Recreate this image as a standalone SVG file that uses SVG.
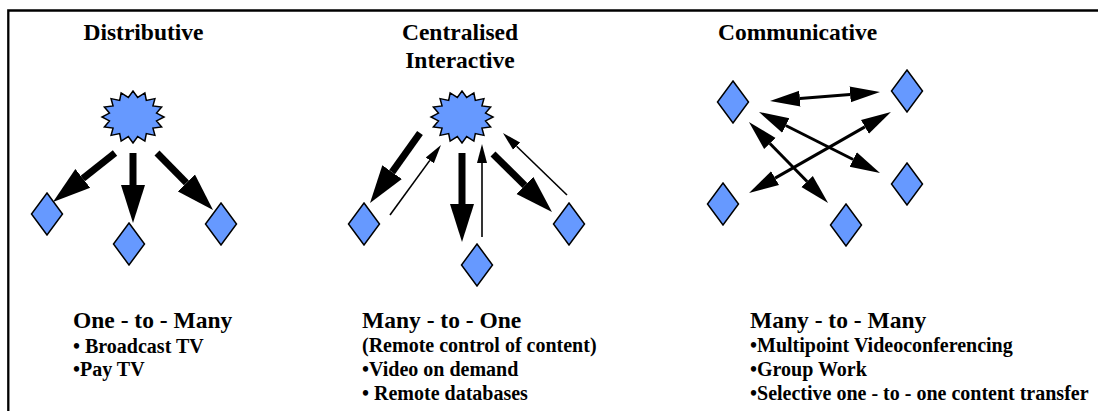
<svg xmlns="http://www.w3.org/2000/svg" width="1098" height="411" viewBox="0 0 1098 411">
<style>
.t{font-family:"Liberation Serif","Times New Roman",serif;font-weight:bold;fill:#000}
.h{font-size:23.5px}
.b{font-size:20px}
.node{fill:#6699FF;stroke:#000;stroke-width:1.5;stroke-linejoin:miter}
.thick{stroke:#000;stroke-width:7;fill:none;marker-end:url(#mThick)}
.thin{stroke:#000;stroke-width:1.6;fill:none;marker-end:url(#mThin)}
.dbl{stroke:#000;stroke-width:3;fill:none;marker-start:url(#mDbl);marker-end:url(#mDbl)}
</style>
<defs>
<marker id="mThick" markerUnits="userSpaceOnUse" viewBox="0 -13 40 26" markerWidth="40" markerHeight="26" refX="0" refY="0" orient="auto"><path d="M0,-12 L38,0 L0,12 z" fill="#000"/></marker>
<marker id="mThin" markerUnits="userSpaceOnUse" viewBox="0 -6 20 12" markerWidth="20" markerHeight="12" refX="0" refY="0" orient="auto"><path d="M0,-5 L19,0 L0,5 z" fill="#000"/></marker>
<marker id="mDbl" markerUnits="userSpaceOnUse" viewBox="0 -9 31 18" markerWidth="31" markerHeight="18" refX="0" refY="0" orient="auto-start-reverse"><path d="M0,-8 L30,0 L0,8 z" fill="#000"/></marker>
<polygon id="star" points="31,0 23.54,3.9 28.64,9.95 19.96,11.11 21.92,18.38 13.33,16.63 11.86,24.02 4.68,19.62 0,26 -4.68,19.62 -11.86,24.02 -13.33,16.63 -21.92,18.38 -19.96,11.11 -28.64,9.95 -23.54,3.9 -31,0 -23.54,-3.9 -28.64,-9.95 -19.96,-11.11 -21.92,-18.38 -13.33,-16.63 -11.86,-24.02 -4.68,-19.62 0,-26 4.68,-19.62 11.86,-24.02 13.33,-16.63 21.92,-18.38 19.96,-11.11 28.64,-9.95 23.54,-3.9"/>
<polygon id="dia" points="0,-21 15.5,0 0,21 -15.5,0"/>
</defs>
<rect width="1098" height="411" fill="#fff"/>
<path d="M8.3,411 V10.5 H1098" fill="none" stroke="#000" stroke-width="2.3"/>

<g id="titles">
<text class="t h" x="143.5" y="40" text-anchor="middle">Distributive</text>
<text class="t h" x="460" y="40" text-anchor="middle">Centralised</text>
<text class="t h" x="460" y="68" text-anchor="middle">Interactive</text>
<text class="t h" x="718" y="40">Communicative</text>
</g>

<g id="connectors">
<line class="thick" x1="115" y1="153" x2="82.8" y2="178.4"/>
<line class="thick" x1="133" y1="153" x2="133" y2="185"/>
<line class="thick" x1="157" y1="153" x2="186.4" y2="182.9"/>

<line class="thick" x1="420" y1="133" x2="392.1" y2="172.1"/>
<line class="thin" x1="390" y1="215" x2="429.8" y2="160.4"/>
<line class="thick" x1="462" y1="153" x2="462" y2="204"/>
<line class="thin" x1="482" y1="237" x2="482" y2="163"/>
<line class="thick" x1="493" y1="154" x2="524.9" y2="185.4"/>
<line class="thin" x1="567" y1="195" x2="516.6" y2="146.2"/>

<line class="dbl" x1="799.9" y1="98.6" x2="850.1" y2="94.4"/>
<line class="dbl" x1="785.8" y1="125.5" x2="853.2" y2="159.5"/>
<line class="dbl" x1="769.9" y1="143.5" x2="807.1" y2="181.5"/>
<line class="dbl" x1="775.1" y1="178.1" x2="864.9" y2="126.9"/>
</g>

<g id="dist-hub"><use href="#star" class="node" x="133" y="117"/></g>
<g id="dist-n1"><use href="#dia" class="node" x="47" y="214"/></g>
<g id="dist-n2"><use href="#dia" class="node" x="129" y="244"/></g>
<g id="dist-n3"><use href="#dia" class="node" x="221" y="224"/></g>

<g id="cent-hub"><use href="#star" class="node" x="462" y="117"/></g>
<g id="cent-n1"><use href="#dia" class="node" x="364" y="224"/></g>
<g id="cent-n2"><use href="#dia" class="node" x="477" y="265"/></g>
<g id="cent-n3"><use href="#dia" class="node" x="569" y="224"/></g>

<g id="comm-n1"><use href="#dia" class="node" x="733" y="102"/></g>
<g id="comm-n2"><use href="#dia" class="node" x="907" y="91"/></g>
<g id="comm-n3"><use href="#dia" class="node" x="907" y="184"/></g>
<g id="comm-n4"><use href="#dia" class="node" x="723" y="204"/></g>
<g id="comm-n5"><use href="#dia" class="node" x="846" y="225"/></g>

<g id="desc-dist">
<text class="t h" x="73" y="328">One - to - Many</text>
<text class="t b" x="73" y="353">• Broadcast TV</text>
<text class="t b" x="73" y="376">•Pay TV</text>
</g>
<g id="desc-cent">
<text class="t h" x="362" y="328">Many - to - One</text>
<text class="t b" x="362" y="352">(Remote control of content)</text>
<text class="t b" x="362" y="376">•Video on demand</text>
<text class="t b" x="362" y="400">• Remote databases</text>
</g>
<g id="desc-comm">
<text class="t h" x="750" y="328">Many - to - Many</text>
<text class="t b" x="750" y="352">•Multipoint Videoconferencing</text>
<text class="t b" x="750" y="376">•Group Work</text>
<text class="t b" x="750" y="400">•Selective one - to - one content transfer</text>
</g>
</svg>
